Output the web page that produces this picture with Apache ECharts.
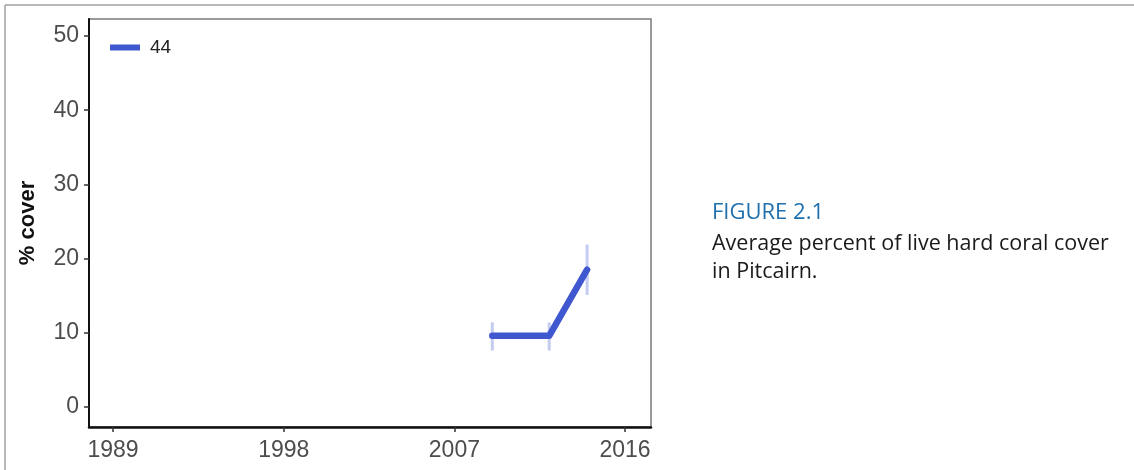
<!DOCTYPE html>
<html>
<head>
<meta charset="utf-8">
<script src="https://cdn.jsdelivr.net/npm/echarts@6/dist/echarts.min.js"></script>
<style>
  html, body { margin: 0; padding: 0; background: #fff; }
  #chart { width: 1134px; height: 470px; }
</style>
</head>
<body>
<div id="chart"></div>
<script>
// coral cover data
const years = [2009, 2012, 2014];
const cover = [9.6, 9.6, 18.5];
const coverLow = [7.6, 7.6, 15.1];
const coverHigh = [11.4, 11.4, 21.9];
const seriesName = '44';
const xTicks = [1989, 1998, 2007, 2016];
const yTicks = [0, 10, 20, 30, 40, 50];

const lineColor = '#3f57cf';
const labelFont = 'Liberation Sans';

const chart = echarts.init(document.getElementById('chart'));

const option = {
  animation: false,
  grid: {
    left: 89, top: 19, right: 483, bottom: 43,
    show: true,
    borderColor: '#7a7a7a',
    borderWidth: 1.5
  },
  legend: {
    data: [seriesName],
    left: 105,
    top: 33,
    icon: 'rect',
    itemWidth: 30,
    itemHeight: 6,
    textStyle: { fontFamily: labelFont, fontSize: 19, color: '#222', padding: [0, 0, 0, 5] }
  },
  xAxis: {
    type: 'value',
    min: 1987.73,
    max: 2017.37,
    axisLine: { onZero: false, lineStyle: { color: '#111', width: 2.5 } },
    axisTick: { customValues: xTicks, length: 5, lineStyle: { color: '#333', width: 1.5 } },
    axisLabel: {
      customValues: xTicks,
      formatter: v => String(v),
      fontFamily: labelFont, fontSize: 23, color: '#4d4d4d', margin: 12
    },
    splitLine: { show: false }
  },
  yAxis: {
    type: 'value',
    min: -2.7,
    max: 52.3,
    name: '% cover',
    nameLocation: 'middle',
    nameGap: 50,
    nameRotate: 90,
    nameTextStyle: { fontFamily: labelFont, fontSize: 22, fontWeight: 'bold', color: '#111' },
    axisLine: { show: true, onZero: false, lineStyle: { color: '#111', width: 2 } },
    axisTick: { show: true, customValues: yTicks, length: 5, lineStyle: { color: '#333', width: 1.5 } },
    axisLabel: {
      customValues: yTicks,
      fontFamily: labelFont, fontSize: 23, color: '#4d4d4d', margin: 10,
      padding: [3, 0, 0, 0]
    },
    splitLine: { show: false }
  },
  graphic: [
    { type: 'line', shape: { x1: 5, y1: 5, x2: 1134, y2: 5 }, style: { stroke: '#a0a0a0', lineWidth: 1.5 } },
    { type: 'line', shape: { x1: 5, y1: 5, x2: 5, y2: 470 }, style: { stroke: '#a0a0a0', lineWidth: 1.5 } },
    {
      type: 'text', left: 712, top: 202,
      style: { text: 'FIGURE 2.1', fontFamily: 'Open Sans', fontSize: 22, fill: '#1f6fad' }
    },
    {
      type: 'text', left: 712, top: 230,
      style: {
        text: 'Average percent of live hard coral cover\nin Pitcairn.',
        fontFamily: 'Open Sans', fontSize: 21.5, lineHeight: 28, fill: '#1a1a1a'
      }
    }
  ],
  series: [
    {
      name: 'err',
      type: 'custom',
      z: 1,
      data: years.map((y, i) => [y, coverLow[i], coverHigh[i]]),
      renderItem: function (params, api) {
        const p1 = api.coord([api.value(0), api.value(1)]);
        const p2 = api.coord([api.value(0), api.value(2)]);
        return {
          type: 'line',
          shape: { x1: p1[0], y1: p1[1], x2: p2[0], y2: p2[1] },
          style: { stroke: 'rgba(63,87,207,0.3)', lineWidth: 3 }
        };
      }
    },
    {
      name: seriesName,
      type: 'line',
      z: 2,
      data: years.map((y, i) => [y, cover[i]]),
      symbol: 'none',
      lineStyle: { color: lineColor, width: 6.5, cap: 'round', join: 'round' },
      itemStyle: { color: lineColor }
    }
  ]
};

chart.setOption(option);
</script>
</body>
</html>
